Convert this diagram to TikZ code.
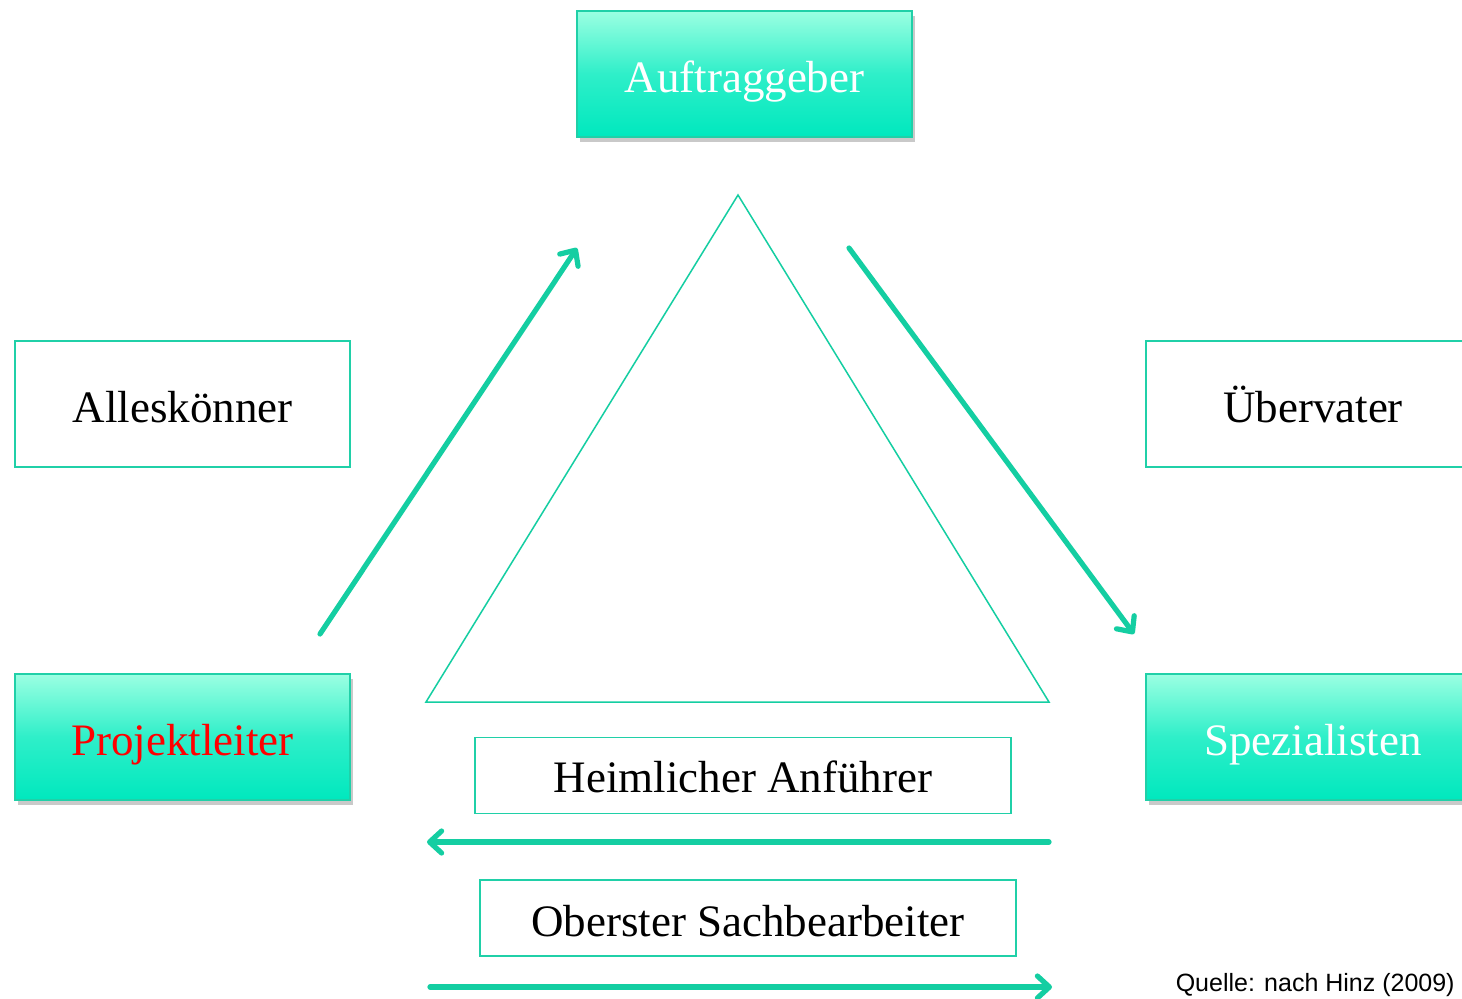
\documentclass[tikz,border=0pt]{standalone}
\usepackage{fontspec}
\setmainfont{Liberation Serif}
\newfontfamily\arialfont{Liberation Sans}
\usetikzlibrary{arrows.meta,shadows}
\definecolor{tealline}{RGB}{20,206,162}
\definecolor{tealborder}{RGB}{32,208,168}
\definecolor{gradtop}{RGB}{155,255,226}
\definecolor{gradbot}{RGB}{0,232,190}
\tikzset{
  rolebox/.style={draw=tealborder, line width=1pt, minimum width=167.5pt, minimum height=63pt, inner sep=0pt, text height=22pt, text depth=4pt, font=\fontsize{22.5pt}{27pt}\selectfont},
  filledbox/.style={rolebox, top color=gradtop, bottom color=gradbot, middle color=gradbot!70!gradtop, text=white,
    drop shadow={shadow xshift=1.5pt, shadow yshift=-2.5pt, opacity=0.35, fill=black!60}},
  plainbox/.style={rolebox, fill=white},
  typebox/.style={draw=tealborder, line width=0.8pt, minimum width=268pt, minimum height=38pt, inner sep=0pt, fill=white, text height=22pt, text depth=4pt, font=\fontsize{22.5pt}{27pt}\selectfont},
  flow/.style={draw=tealline, line width=2.6pt, line cap=round, -{Straight Barb[length=6pt,width=11pt,line width=2.6pt,round]}}
}
\begin{document}
\begin{tikzpicture}[x=0.5pt,y=-0.5pt]
\clip (0,0) rectangle (1462,998);
\useasboundingbox (0,0) rectangle (1462,998);
\fill[white] (0,0) rectangle (1462,998);
% triangle
\coordinate (apex) at (738,195);
\coordinate (bl) at (426,702);
\coordinate (br) at (1049,702);
\draw[tealline, line width=0.75pt, line join=miter] (apex) -- (bl) -- (br) -- cycle;
% boxes
\node[filledbox] (auf) at (744.5,74) {Auftraggeber};
\node[plainbox] (alles) at (182.5,404) {Alleskönner};
\node[plainbox] (uber) at (1313,404) {Übervater};
\node[filledbox, text=red] (pl) at (182.5,737) {Projektleiter};
\node[filledbox] (spez) at (1313,737) {Spezialisten};
\node[typebox, text height=20.5pt] (heim) at (743,775.5) {Heimlicher Anführer};
\node[typebox] (ober) at (748,918) {Oberster Sachbearbeiter};
% arrows
\coordinate (a1s) at (320,634);
\coordinate (a1e) at (577,248);
\coordinate (a2s) at (849,248);
\coordinate (a2e) at (1134,634);
\coordinate (a3s) at (1049,842);
\coordinate (a3e) at (427,842);
\coordinate (a4s) at (430,987);
\coordinate (a4e) at (1052,987);
\draw[flow] (a1s) -- (a1e);
\draw[flow] (a2s) -- (a2e);
\draw[flow] (a3s) -- (a3e);
\draw[flow] (a4s) -- (a4e);
% source
\node[anchor=base east, inner sep=0pt, font=\arialfont\fontsize{12.5pt}{15pt}\selectfont] (src) at (1455,991) {Quelle: nach Hinz (2009)};
\end{tikzpicture}
\end{document}
